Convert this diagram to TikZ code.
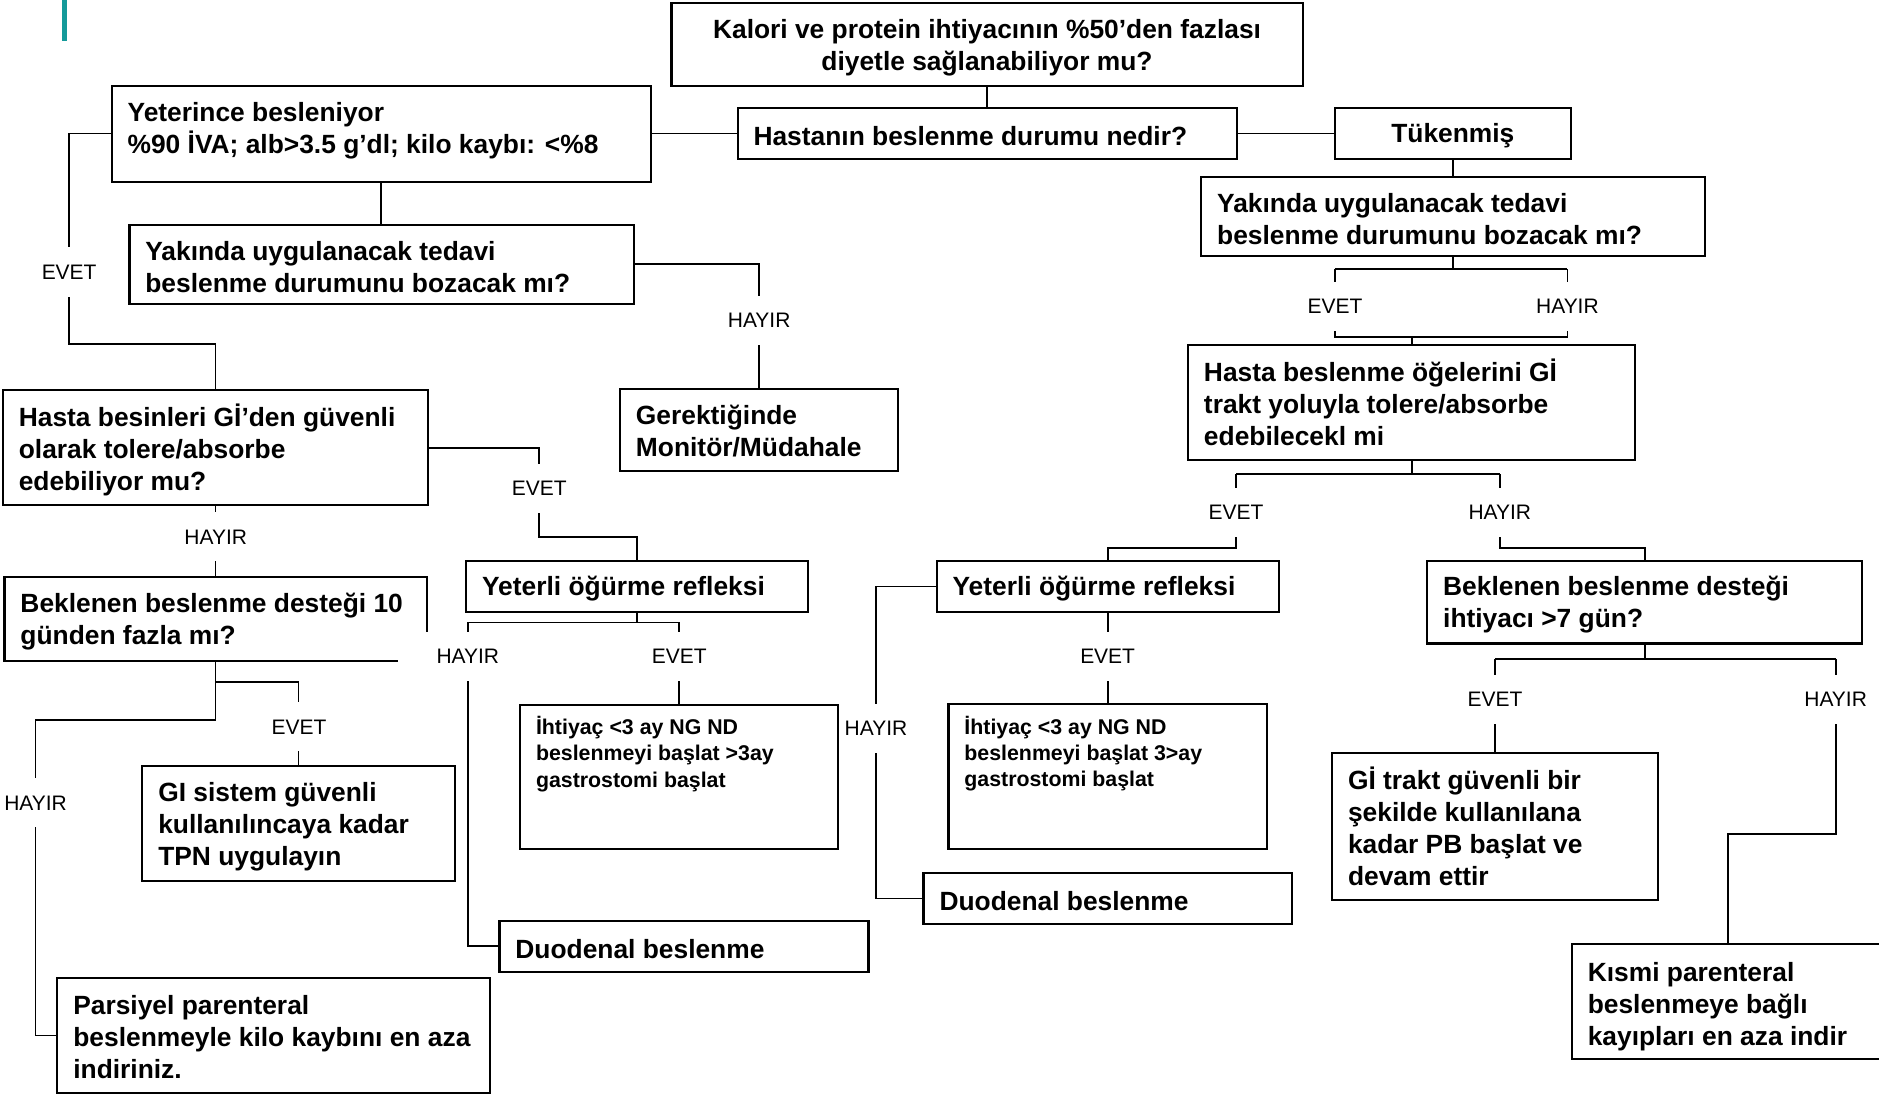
\documentclass[tikz,border=0pt]{standalone}
\usepackage{fontspec}
\setmainfont{Liberation Sans}
\usetikzlibrary{fit}
\definecolor{tealbar}{RGB}{20,154,154}
\begin{document}
\begin{tikzpicture}[x=1pt,y=-1pt,
  bx/.style={draw, line width=1.8pt, inner sep=0pt, fit={#1}},
  bt/.style={font=\fontsize{22}{26.6}\selectfont\bfseries, align=left, inner sep=0pt, anchor=west, yshift=-2pt},
  st/.style={font=\fontsize{17.8}{22}\selectfont\bfseries, align=left, inner sep=0pt, anchor=north west},
  ln/.style={line width=1.5pt},
  lb/.style={fill=white, font=\fontsize{17.5}{21}\selectfont, inner xsep=4pt, inner ysep=0pt, minimum height=41pt}]
\useasboundingbox (0,0) rectangle (1568,913);
\clip (0,0) rectangle (1568,913);
\fill[tealbar] (52,0) rectangle (55.5,34);
% boxes
\node[bx={(560.3,2.8) (1087,71.5)}] (A) {};
\node[bx={(615.5,89.9) (1032.3,133)}] (B) {};
\node[bx={(93.2,71.5) (543,152)}] (C) {};
\node[bx={(1113.7,89.9) (1311,132.5)}] (D) {};
\node[bx={(108,187.5) (529,253.7)}] (E) {};
\node[bx={(1002.4,147.4) (1422.8,213.6)}] (F) {};
\node[bx={(517.4,324.9) (749.6,392.8)}] (G) {};
\node[bx={(991.4,287.9) (1364.5,383.9)}] (H) {};
\node[bx={(2.4,325.5) (357.4,421.7)}] (I) {};
\node[bx={(389,468.2) (674.6,510.4)}] (J) {};
\node[bx={(3.8,481.8) (356,551.6)}] (K) {};
\node[bx={(781.6,467.8) (1067,511)}] (L) {};
\node[bx={(1191,467.8) (1554,537)}] (M) {};
\node[bx={(434,588.3) (699.4,708.5)}] (N) {};
\node[bx={(791.5,587.5) (1057,708.6)}] (O) {};
\node[bx={(118.8,639) (379.4,735.2)}] (P) {};
\node[bx={(1111.6,628.6) (1383.6,750.8)}] (Q) {};
\node[bx={(770.7,728.5) (1077.9,771)}] (R) {};
\node[bx={(416.8,768.3) (724.8,810.9)}] (S) {};
\node[bx={(47.9,815.9) (408.6,912.4)}] (T) {};
\node[bx={(1311.7,788) (1572.3,883.8)}] (U) {};
% texts
\node[bt, anchor=center, align=center] (At) at ([yshift=-1pt]A.center) {Kalori ve protein ihtiyacının \%50’den fazlası\\diyetle sağlanabiliyor mu?};
\node[bt] (Bt) at ([xshift=14pt]B.west) {Hastanın beslenme durumu nedir?};
\node[bt] (Ct) at ([xshift=14pt,yshift=5pt]C.west) {Yeterince besleniyor\\\%90 İVA; alb>3.5 g’dl; kilo kaybı: <\%8};
\node[bt, anchor=center] (Dt) at (D.center) {Tükenmiş};
\node[bt] (Et) at ([xshift=14pt]E.west) {Yakında uygulanacak tedavi\\beslenme durumunu bozacak mı?};
\node[bt] (Ft) at ([xshift=14pt]F.west) {Yakında uygulanacak tedavi\\beslenme durumunu bozacak mı?};
\node[bt] (Gt) at ([xshift=14pt,yshift=1pt]G.west) {Gerektiğinde\\Monitör/Müdahale};
\node[bt] (Ht) at ([xshift=14pt,yshift=2pt]H.west) {Hasta beslenme öğelerini Gİ\\trakt yoluyla tolere/absorbe\\edebilecekl mi};
\node[bt] (It) at ([xshift=14pt]I.west) {Hasta besinleri Gİ’den güvenli\\olarak tolere/absorbe\\edebiliyor mu?};
\node[bt] (Jt) at ([xshift=14pt]J.west) {Yeterli öğürme refleksi};
\node[bt] (Kt) at ([xshift=14pt]K.west) {Beklenen beslenme desteği 10\\günden fazla mı?};
\node[bt] (Lt) at ([xshift=14pt]L.west) {Yeterli öğürme refleksi};
\node[bt] (Mt) at ([xshift=14pt]M.west) {Beklenen beslenme desteği\\ihtiyacı >7 gün?};
\node[st] (Nt) at ([xshift=14pt,yshift=-10pt]N.north west) {İhtiyaç <3 ay NG ND\\beslenmeyi başlat >3ay\\gastrostomi başlat};
\node[st] (Ot) at ([xshift=14pt,yshift=-10.5pt]O.north west) {İhtiyaç <3 ay NG ND\\beslenmeyi başlat 3>ay\\gastrostomi başlat};
\node[bt] (Pt) at ([xshift=14pt,yshift=-1pt]P.west) {GI sistem güvenli\\kullanılıncaya kadar\\TPN uygulayın};
\node[bt] (Qt) at ([xshift=14pt,yshift=2pt]Q.west) {Gİ trakt güvenli bir\\şekilde kullanılana\\kadar PB başlat ve\\devam ettir};
\node[bt] (Rt) at ([xshift=14pt]R.west) {Duodenal beslenme};
\node[bt] (St) at ([xshift=14pt]S.west) {Duodenal beslenme};
\node[bt] (Tt) at ([xshift=14pt,yshift=1pt]T.west) {Parsiyel parenteral\\beslenmeyle kilo kaybını en aza\\indiriniz.};
\node[bt] (Ut) at ([xshift=14pt,yshift=-2pt]U.west) {Kısmi parenteral\\beslenmeye bağlı\\kayıpları en aza indir};
% helper coordinates
\coordinate (c1) at (57.7,287);
\coordinate (f1) at (1114,224.5);
\coordinate (f2) at (1308,224.5);
\coordinate (f3) at (1114,281.5);
\coordinate (f4) at (1308,281.5);
\coordinate (h1) at (1031.5,395.6);
\coordinate (h2) at (1251.6,395.6);
\coordinate (h3) at (1031.5,457.6);
\coordinate (h4) at (1251.6,457.6);
\coordinate (l1) at (731,489);
\coordinate (m1) at (1247.6,550);
\coordinate (m2) at (1531.8,550);
\coordinate (m3) at (1531.8,696);
\coordinate (m4) at (1442,696);
\coordinate (i1) at (450,448);
\coordinate (j1) at (390.4,519.4);
\coordinate (j2) at (566.8,519.4);
\coordinate (k1) at (29.7,600.9);
\coordinate (k2) at (250,568.9);
% connectors
\draw[ln] (A.south) -- (A.south |- B.north);
\draw[ln] (B.west) -- (B.west -| C.east);
\draw[ln] (B.east) -- (B.east -| D.west);
\draw[ln] (C.south) -- (C.south |- E.north);
\draw[ln] (B.west -| C.west) -- (c1 |- B.west) -- (c1) -| (I.north);
\draw[ln] (E.east) -| (G.north);
\draw[ln] (D.south) -- (D.south |- F.north);
\draw[ln] (F.south) -- (F.south |- f1);
\draw[ln] (f1) -- (f2);
\draw[ln] (f1) -- (f3) -- (f4) -- (f2);
\draw[ln] (H.north |- f3) -- (H.north);
\draw[ln] (H.south) -- (H.south |- h1);
\draw[ln] (h1) -- (h2);
\draw[ln] (h1) -- (h3) -| (L.north);
\draw[ln] (h2) -- (h4) -| (M.north);
\draw[ln] (L.south) -- (L.south |- O.north);
\draw[ln] (L.west) -- (L.west -| l1) |- (R.west);
\draw[ln] (M.south) -- (M.south |- m1);
\draw[ln] (m1) -- (m2);
\draw[ln] (m1) -- (m1 |- Q.north);
\draw[ln] (m2) -- (m3) -- (m4) -- (m4 |- U.north);
\draw[ln] (I.east) -| (i1) -| (J.north);
\draw[ln] (I.south) -- (I.south |- K.north);
\draw[ln] (J.south) -- (J.south |- j1);
\draw[ln] (j1) -- (j2);
\draw[ln] (j2) -- (j2 |- N.north);
\draw[ln] (j1) |- (S.west);
\draw[ln] (K.south) -- (K.south |- k1) -- (k1) |- (T.west);
\draw[ln] (K.south |- k2) -| (P.north);
% labels
\node[lb] (e1) at (57.7,227) {EVET};
\node[lb] (y1) at (633.5,267.5) {HAYIR};
\node[lb] (e2) at (1114,255.8) {EVET};
\node[lb] (y2) at (1308,255.8) {HAYIR};
\node[lb] (e3) at (1031.5,427.5) {EVET};
\node[lb] (y3) at (1251.6,427.5) {HAYIR};
\node[lb] (e4) at (450,407.5) {EVET};
\node[lb] (y4) at (180,448) {HAYIR};
\node[lb, minimum width=117pt] (y5) at (390.4,548) {HAYIR};
\node[lb] (e5) at (566.8,548) {EVET};
\node[lb] (e6) at (924.3,548) {EVET};
\node[lb] (y6) at (731,608) {HAYIR};
\node[lb] (e7) at (1247.6,583.5) {EVET};
\node[lb] (y7) at (1531.8,583.5) {HAYIR};
\node[lb] (e8) at (249.5,606.5) {EVET};
\node[lb] (y8) at (29.7,670) {HAYIR};
\end{tikzpicture}
\end{document}
